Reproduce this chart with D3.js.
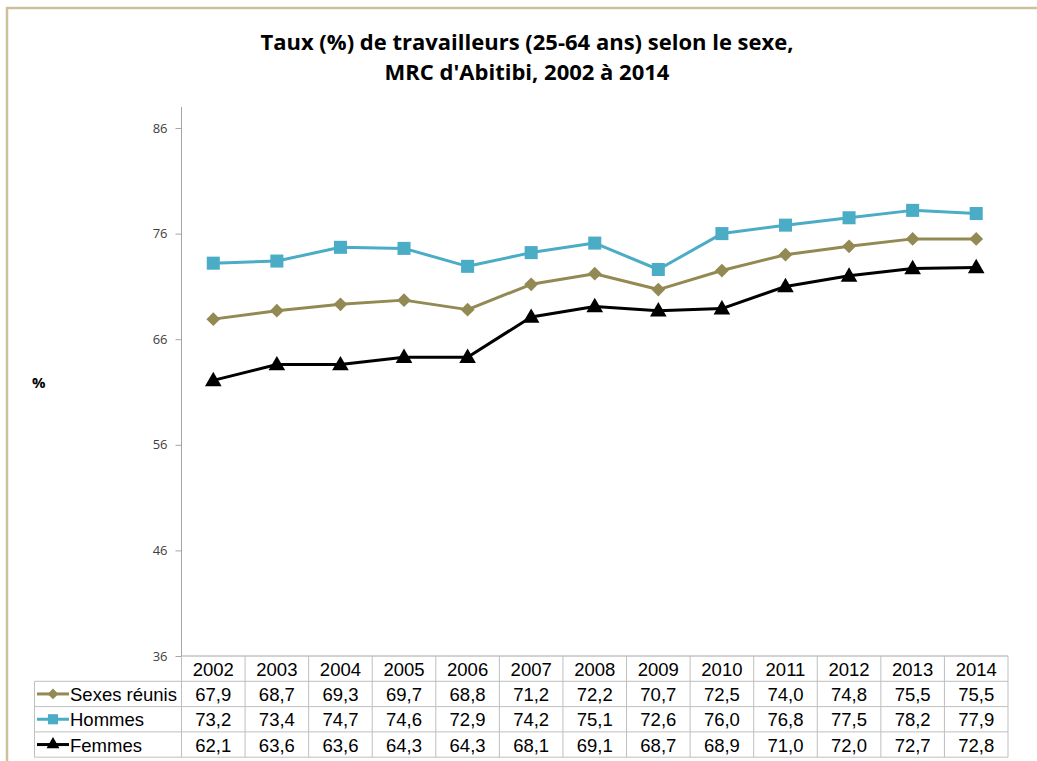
<!DOCTYPE html>
<html><head><meta charset="utf-8">
<script src="https://cdn.jsdelivr.net/npm/d3@7"></script>
<style>body{margin:0;background:#fff}svg{display:block}</style>
</head><body>
<svg id="c" width="1037" height="761"></svg>
<script>
const years = ["2002","2003","2004","2005","2006","2007","2008","2009","2010","2011","2012","2013","2014"];
const sexesReunis = [67.9,68.7,69.3,69.7,68.8,71.2,72.2,70.7,72.5,74.0,74.8,75.5,75.5];
const hommes = [73.2,73.4,74.7,74.6,72.9,74.2,75.1,72.6,76.0,76.8,77.5,78.2,77.9];
const femmes = [62.1,63.6,63.6,64.3,64.3,68.1,69.1,68.7,68.9,71.0,72.0,72.7,72.8];
const yTicks = [36,46,56,66,76,86];
const seriesNames = ["Sexes réunis","Hommes","Femmes"];
const titleLines = ["Taux (%) de travailleurs (25-64 ans) selon le sexe,","MRC d'Abitibi, 2002 à 2014"];

(function(){
const series = [
  {name: seriesNames[0], values: sexesReunis, color: "#938953", shape: d3.symbolSquare, size: 95, rot: 45},
  {name: seriesNames[1], values: hommes, color: "#4bacc6", shape: d3.symbolSquare, size: 170, rot: 0},
  {name: seriesNames[2], values: femmes, color: "#000000", shape: d3.symbolTriangle, size: 120, rot: 0}
];

const svg = d3.select("#c");
svg.append("path").attr("d","M7,761 L7,8 L1037,8").attr("fill","none").attr("stroke","#cbc29c").attr("stroke-width",2.5);

svg.append("g").selectAll("text").data(titleLines).join("text")
  .attr("x",527).attr("y",(d,i)=>50+i*30).attr("text-anchor","middle")
  .attr("font-family","'Open Sans', sans-serif").attr("font-weight","bold")
  .attr("font-size",22).attr("fill","#000").text(d=>d);

const pL = 181.5, pR = 1008, pT = 107, pB = 656;
const x = d3.scaleBand().domain(years).range([pL,pR]);
const y = d3.scaleLinear().domain([36,86]).range([pB,128]);

const ya = svg.append("g").attr("transform",`translate(${pL},0)`)
  .call(d3.axisLeft(y).tickValues(yTicks).tickSize(6).tickPadding(8));
ya.select(".domain").remove();
ya.selectAll(".tick line").attr("stroke","#a6a6a6");
ya.selectAll(".tick text").attr("font-family","'Open Sans', sans-serif").attr("font-size",13).attr("fill","#404040");
svg.append("line").attr("x1",pL).attr("x2",pL).attr("y1",pT).attr("y2",pB).attr("stroke","#a6a6a6");
svg.append("line").attr("x1",pL).attr("x2",pR).attr("y1",pB).attr("y2",pB).attr("stroke","#a6a6a6");

svg.append("text").attr("x",32).attr("y",388).attr("font-family","'Open Sans', sans-serif").attr("font-weight","bold").attr("font-size",15).text("%");

const cx = d => x(d) + x.bandwidth()/2;
series.forEach(s=>{
  const line = d3.line().x((d,i)=>cx(years[i])).y(d=>y(d));
  svg.append("path").datum(s.values).attr("d",line).attr("fill","none").attr("stroke",s.color).attr("stroke-width",3).attr("stroke-linejoin","round");
  svg.append("g").selectAll("path").data(s.values).join("path")
    .attr("d",d3.symbol().type(s.shape).size(s.size))
    .attr("transform",(d,i)=>`translate(${cx(years[i])},${y(d) + (s.shape===d3.symbolTriangle?1:0)}) rotate(${s.rot})`)
    .attr("fill",s.color);
});

const rowH = 25.3;
const tableLeft = 34.5;
const tbl = svg.append("g");
const grid = "#bfbfbf";
years.forEach((yr)=>{
  const xl = x(yr);
  tbl.append("line").attr("x1",xl).attr("x2",xl).attr("y1",pB).attr("y2",pB+rowH*4).attr("stroke",grid);
});
tbl.append("line").attr("x1",pR).attr("x2",pR).attr("y1",pB).attr("y2",pB+rowH*4).attr("stroke",grid);
tbl.append("line").attr("x1",tableLeft).attr("x2",tableLeft).attr("y1",pB+rowH).attr("y2",pB+rowH*4).attr("stroke",grid);
for(let r=1;r<=4;r++){
  tbl.append("line").attr("x1",tableLeft).attr("x2",pR).attr("y1",pB+rowH*r).attr("y2",pB+rowH*r).attr("stroke",grid);
}
const tf = "'Liberation Sans', Arial, sans-serif";
const fs = 18.5;
tbl.selectAll("text.yr").data(years).join("text").attr("class","yr")
  .attr("x",d=>cx(d)).attr("y",pB+rowH-5.5).attr("text-anchor","middle")
  .attr("font-family",tf).attr("font-size",fs).text(d=>d);
const fmt = v => d3.format(".1f")(v).replace(".",",");
series.forEach((s,r)=>{
  const yy = pB + rowH*(r+2) - 5.5;
  tbl.append("g").selectAll("text").data(s.values).join("text")
    .attr("x",(d,i)=>cx(years[i])).attr("y",yy).attr("text-anchor","middle")
    .attr("font-family",tf).attr("font-size",fs).text(d=>fmt(d));
  const ly = pB + rowH*(r+1) + rowH/2;
  tbl.append("line").attr("x1",37).attr("x2",69).attr("y1",ly).attr("y2",ly).attr("stroke",s.color).attr("stroke-width",3);
  tbl.append("path").attr("d",d3.symbol().type(s.shape).size(s.size*0.6)).attr("transform",`translate(53,${ly}) rotate(${s.rot})`).attr("fill",s.color);
  tbl.append("text").attr("x",70).attr("y",yy).attr("font-family",tf).attr("font-size",fs).text(s.name);
});
})();
</script>
</body></html>
